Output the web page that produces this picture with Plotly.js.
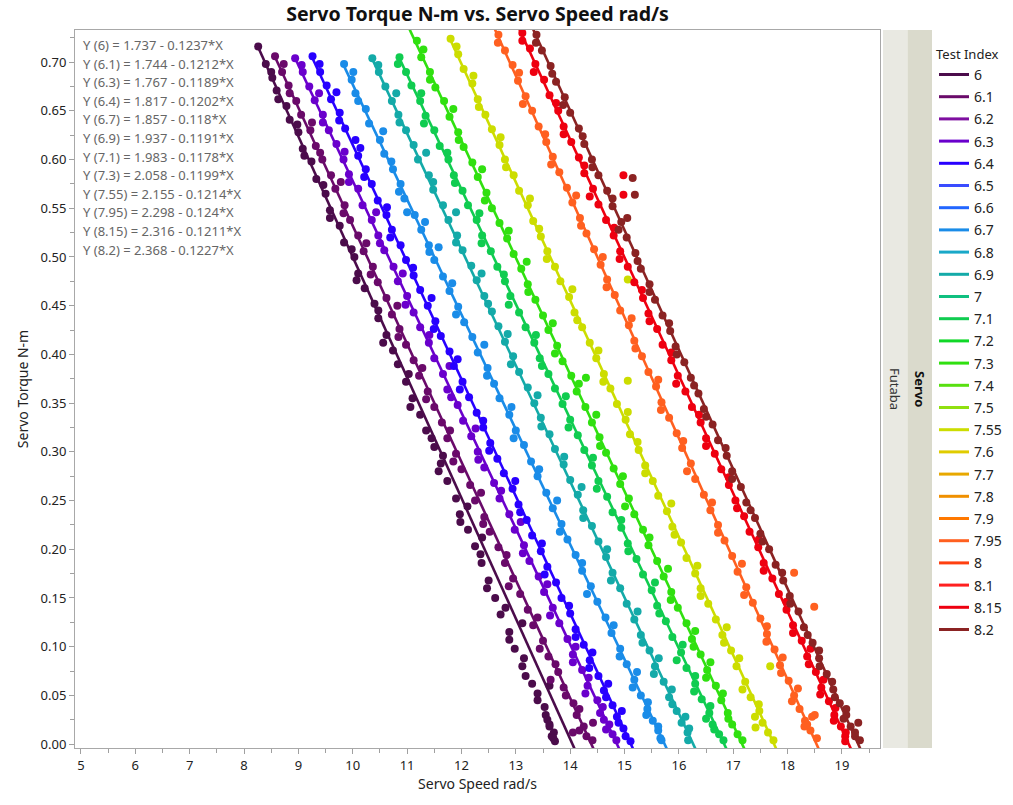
<!DOCTYPE html>
<html>
<head>
<meta charset="utf-8">
<script src="https://cdn.plot.ly/plotly-3.0.1.min.js"></script>
<style>html,body{margin:0;padding:0;background:#fff;}#chart{width:1013px;height:805px;}</style>
</head>
<body>
<div id="chart"></div>
<script>
// ---- Legend categories (Test Index) and colours ----
const legendNames = ['6','6.1','6.2','6.3','6.4','6.5','6.6','6.7','6.8','6.9','7','7.1','7.2','7.3','7.4','7.5','7.55','7.6','7.7','7.8','7.9','7.95','8','8.1','8.15','8.2'];
const legendColors = ['#4B0C4B','#6A0A6A','#7E0FA0','#6A00CC','#2800FF','#3A4CFF','#2266FF','#1A8CE8','#19A8C8','#14AAA8','#10C080','#10CC50','#10D828','#30E010','#58E010','#90E010','#CCDD00','#E0CC00','#E8A800','#F09000','#FF7800','#FF6020','#FF4010','#FF2020','#EE0010','#8B2323'];

// ---- Series with data and their fitted lines ----
const seriesNames = ['6','6.1','6.3','6.4','6.7','6.9','7.1','7.3','7.55','7.95','8.15','8.2'];
const fitIntercepts = [1.737,1.744,1.767,1.817,1.857,1.937,1.983,2.058,2.155,2.298,2.316,2.368];
const fitSlopes = [0.1237,0.1212,0.1189,0.1202,0.118,0.1191,0.1178,0.1199,0.1214,0.124,0.1211,0.1227];

const X_6 = [8.26,8.40,8.52,8.60,8.78,8.84,9.00,9.08,9.24,9.33,9.50,9.58,9.76,9.84,10.03,10.10,10.22,10.40,10.47,10.62,10.74,10.83,10.98,11.10,11.24,11.35,11.50,11.62,11.74,11.90,11.97,12.12,12.25,12.37,12.50,12.62,12.72,12.88,12.98,13.12,13.30,13.40,13.55,13.62,13.66,13.72,13.70,13.58,11.66,12.38,13.12,13.62,
  8.50,8.63,8.98,9.11,9.46,9.58,9.98,10.07,10.47,10.56,11.03,11.06,11.45,11.58,12.11,11.98,12.35,12.47,12.81,12.88,13.15,13.18,13.40,13.53,13.62,13.69];
const Y_6 = [0.716,0.698,0.684,0.671,0.655,0.641,0.628,0.611,0.598,0.580,0.565,0.548,0.532,0.515,0.500,0.483,0.468,0.452,0.437,0.420,0.404,0.390,0.372,0.355,0.338,0.322,0.305,0.288,0.270,0.252,0.236,0.220,0.203,0.186,0.168,0.150,0.133,0.115,0.098,0.080,0.062,0.045,0.030,0.018,0.008,0.003,0.012,0.025,0.296,0.212,0.124,0.060,
  0.690,0.662,0.636,0.604,0.574,0.540,0.508,0.476,0.445,0.412,0.380,0.346,0.314,0.280,0.244,0.228,0.195,0.160,0.140,0.107,0.088,0.070,0.052,0.038,0.020,0.006];

const X_6_1 = [8.57,8.70,8.82,8.96,9.05,9.22,9.32,9.44,9.60,9.68,9.85,9.95,10.10,10.20,10.37,10.46,10.62,10.72,10.86,10.98,11.12,11.22,11.38,11.50,11.64,11.74,11.90,12.00,12.16,12.25,12.42,12.52,12.68,12.80,12.95,13.08,13.22,13.32,13.50,13.60,13.78,13.88,14.06,14.12,14.25,14.30,14.42,14.05,
  8.73,8.84,9.25,9.40,9.78,9.83,10.25,10.33,10.82,10.84,11.28,11.35,11.79,11.85,12.36,12.40,12.83,12.87,13.40,13.44,13.73,13.64,13.92,14.17,14.17,14.41];
const Y_6_1 = [0.706,0.690,0.676,0.660,0.646,0.630,0.614,0.600,0.584,0.570,0.553,0.538,0.522,0.506,0.490,0.474,0.458,0.441,0.426,0.410,0.394,0.378,0.362,0.346,0.330,0.314,0.298,0.282,0.266,0.250,0.233,0.218,0.202,0.186,0.170,0.154,0.138,0.122,0.106,0.090,0.074,0.058,0.042,0.030,0.018,0.008,0.022,0.012,
  0.698,0.668,0.638,0.607,0.577,0.545,0.514,0.482,0.450,0.418,0.386,0.354,0.322,0.290,0.258,0.226,0.194,0.162,0.130,0.098,0.082,0.066,0.050,0.036,0.014,0.004];

const X_6_3 = [8.94,9.08,9.20,9.30,9.45,9.56,9.70,9.83,9.93,10.10,10.18,10.35,10.47,10.58,10.75,10.83,11.00,11.12,11.24,11.40,11.50,11.66,11.74,11.93,12.03,12.18,12.30,12.42,12.60,12.70,12.88,12.98,13.15,13.25,13.42,13.52,13.68,13.80,13.95,14.05,14.22,14.32,14.50,14.55,14.72,14.78,14.62,
  9.06,9.38,9.45,9.85,9.93,10.43,10.50,10.92,10.97,11.41,11.78,11.81,12.26,12.31,12.73,13.09,13.13,13.58,13.63,14.10,14.05,14.34,14.28,14.60,14.66,14.85];
const Y_6_3 = [0.704,0.690,0.675,0.661,0.646,0.630,0.616,0.600,0.585,0.570,0.553,0.538,0.522,0.507,0.490,0.475,0.460,0.443,0.428,0.412,0.396,0.380,0.364,0.348,0.332,0.316,0.300,0.284,0.268,0.252,0.236,0.220,0.204,0.188,0.172,0.156,0.140,0.124,0.108,0.092,0.076,0.060,0.045,0.032,0.020,0.010,0.025,
  0.697,0.668,0.638,0.608,0.577,0.546,0.514,0.483,0.451,0.420,0.388,0.356,0.324,0.292,0.260,0.228,0.196,0.164,0.132,0.100,0.084,0.068,0.052,0.038,0.015,0.004];

const X_6_4 = [9.26,9.40,9.52,9.60,9.76,9.86,10.05,10.10,10.24,10.35,10.46,10.62,10.72,10.88,10.98,11.12,11.24,11.38,11.52,11.62,11.78,11.86,12.02,12.14,12.28,12.40,12.53,12.66,12.78,12.94,13.05,13.20,13.30,13.46,13.58,13.74,13.84,14.00,14.10,14.25,14.36,14.52,14.62,14.78,14.86,14.98,15.02,
  9.39,9.70,9.75,10.14,10.21,10.63,10.69,11.11,11.45,11.49,11.93,11.97,12.40,12.51,12.99,13.08,13.48,13.53,13.98,14.10,14.41,14.35,14.70,14.66,14.95,14.89,15.11];
const Y_6_4 = [0.706,0.690,0.676,0.662,0.648,0.632,0.620,0.604,0.590,0.575,0.558,0.543,0.528,0.512,0.497,0.481,0.466,0.450,0.434,0.419,0.403,0.388,0.372,0.356,0.340,0.325,0.309,0.293,0.278,0.262,0.246,0.230,0.214,0.198,0.182,0.166,0.150,0.134,0.118,0.102,0.086,0.070,0.055,0.040,0.028,0.016,0.008,
  0.698,0.669,0.640,0.612,0.582,0.551,0.520,0.489,0.458,0.426,0.395,0.364,0.332,0.301,0.270,0.238,0.206,0.174,0.142,0.110,0.094,0.078,0.062,0.048,0.034,0.022,0.003];

const X_6_7 = [9.84,9.98,10.05,10.24,10.30,10.50,10.58,10.74,10.88,10.95,11.14,11.26,11.40,11.50,11.66,11.78,11.94,12.05,12.20,12.30,12.48,12.60,12.70,12.88,13.00,13.15,13.28,13.40,13.56,13.68,13.84,13.95,14.10,14.22,14.38,14.50,14.65,14.76,14.92,15.04,15.18,15.30,15.42,15.52,15.62,15.66,11.58,11.00,
  10.01,10.10,10.56,10.71,10.85,11.33,11.41,11.83,11.90,12.42,12.47,12.92,12.96,13.43,13.76,13.81,14.22,14.31,14.80,14.91,15.23,15.15,15.43,15.40,15.62,15.68];
const Y_6_7 = [0.698,0.682,0.668,0.652,0.637,0.620,0.606,0.590,0.575,0.560,0.543,0.528,0.512,0.497,0.480,0.465,0.449,0.433,0.418,0.402,0.386,0.370,0.355,0.338,0.322,0.307,0.290,0.275,0.258,0.242,0.226,0.210,0.194,0.178,0.162,0.146,0.130,0.114,0.098,0.082,0.066,0.050,0.036,0.024,0.014,0.006,0.510,0.546,
  0.690,0.660,0.629,0.598,0.567,0.536,0.505,0.473,0.441,0.410,0.378,0.346,0.314,0.282,0.250,0.218,0.186,0.154,0.122,0.090,0.074,0.058,0.043,0.030,0.018,0.004];

const X_6_9 = [10.36,10.48,10.60,10.72,10.84,10.98,11.12,11.20,11.40,11.48,11.66,11.76,11.92,12.02,12.18,12.28,12.42,12.56,12.68,12.80,12.95,13.06,13.22,13.34,13.46,13.62,13.72,13.88,14.00,14.14,14.24,14.40,14.52,14.66,14.78,14.92,15.04,15.18,15.30,15.46,15.56,15.72,15.82,15.96,16.05,16.16,16.12,
  10.47,10.80,10.86,11.35,11.48,11.90,11.90,12.37,12.49,12.85,12.91,13.40,13.47,13.89,14.21,14.24,14.68,14.75,15.24,15.33,15.63,15.54,15.87,15.88,16.19,16.17];
const Y_6_9 = [0.704,0.690,0.675,0.660,0.646,0.630,0.615,0.600,0.584,0.569,0.553,0.538,0.522,0.507,0.491,0.476,0.460,0.444,0.429,0.413,0.398,0.382,0.366,0.350,0.335,0.318,0.303,0.287,0.271,0.256,0.240,0.224,0.208,0.192,0.176,0.160,0.144,0.128,0.112,0.096,0.080,0.064,0.048,0.034,0.022,0.012,0.028,
  0.697,0.668,0.638,0.607,0.577,0.546,0.515,0.483,0.452,0.421,0.390,0.358,0.326,0.295,0.264,0.232,0.200,0.168,0.136,0.104,0.088,0.072,0.056,0.041,0.016,0.004];

const X_7_1 = [10.86,10.98,11.08,11.24,11.34,11.50,11.60,11.76,11.86,12.02,12.12,12.28,12.38,12.54,12.66,12.80,12.90,13.06,13.18,13.34,13.44,13.60,13.72,13.86,14.00,14.14,14.26,14.40,14.52,14.68,14.78,14.94,15.06,15.22,15.34,15.50,15.60,15.76,15.88,16.04,16.14,16.30,16.42,16.56,16.62,16.74,16.50,
  10.83,11.26,11.31,11.74,11.88,12.33,12.37,12.78,12.87,13.37,13.48,13.92,13.97,14.42,14.49,14.94,15.07,15.56,15.64,16.07,15.96,16.30,16.28,16.58,16.65,16.82];
const Y_7_1 = [0.705,0.690,0.676,0.660,0.645,0.630,0.614,0.600,0.584,0.568,0.553,0.538,0.522,0.506,0.490,0.475,0.460,0.443,0.428,0.412,0.396,0.380,0.365,0.349,0.333,0.317,0.302,0.286,0.270,0.254,0.238,0.222,0.206,0.190,0.174,0.158,0.142,0.126,0.110,0.094,0.078,0.062,0.046,0.032,0.020,0.010,0.026,
  0.698,0.668,0.637,0.607,0.576,0.545,0.514,0.482,0.451,0.420,0.388,0.357,0.325,0.294,0.262,0.230,0.198,0.166,0.134,0.102,0.086,0.070,0.054,0.039,0.015,0.004];

const X_7_3 = [10.99,11.18,11.26,11.42,11.52,11.68,11.78,11.94,12.04,12.20,12.30,12.46,12.56,12.70,12.84,12.96,13.10,13.22,13.36,13.50,13.60,13.76,13.86,14.02,14.12,14.28,14.40,14.54,14.66,14.80,14.92,15.08,15.18,15.34,15.44,15.60,15.72,15.86,15.98,16.14,16.24,16.40,16.52,16.68,16.78,16.90,16.98,17.08,14.29,
  11.30,11.42,11.85,11.95,12.38,12.43,12.87,13.20,13.23,13.68,13.72,14.16,14.48,14.55,14.97,15.01,15.46,15.80,15.85,16.30,16.27,16.58,16.50,16.81,16.91,17.17];
const Y_7_3 = [0.742,0.722,0.705,0.690,0.674,0.660,0.644,0.628,0.613,0.597,0.582,0.566,0.550,0.535,0.519,0.503,0.488,0.472,0.456,0.440,0.425,0.409,0.393,0.378,0.362,0.346,0.330,0.315,0.299,0.283,0.267,0.252,0.236,0.220,0.204,0.188,0.172,0.156,0.140,0.124,0.108,0.092,0.076,0.060,0.045,0.032,0.020,0.010,0.376,
  0.713,0.682,0.652,0.620,0.590,0.558,0.527,0.495,0.464,0.432,0.401,0.370,0.338,0.306,0.275,0.244,0.212,0.180,0.148,0.116,0.100,0.084,0.068,0.052,0.026,0.004];

const X_7_55 = [11.80,11.94,12.04,12.20,12.30,12.44,12.56,12.70,12.80,12.96,13.06,13.22,13.32,13.46,13.58,13.72,13.82,13.98,14.08,14.22,14.36,14.48,14.62,14.74,14.86,15.02,15.10,15.26,15.38,15.52,15.62,15.78,15.88,16.04,16.14,16.30,16.40,16.54,16.68,16.80,16.96,17.06,17.22,17.32,17.48,17.54,17.64,17.40,15.06,15.06,17.68,
  11.91,12.22,12.32,12.72,12.82,13.26,13.43,13.57,14.04,14.13,14.52,14.61,15.06,15.24,15.38,15.86,15.92,16.34,16.40,16.88,16.83,17.11,17.17,17.47,17.41,17.74];
const Y_7_55 = [0.724,0.708,0.693,0.678,0.662,0.646,0.631,0.615,0.600,0.584,0.568,0.553,0.537,0.521,0.506,0.490,0.475,0.459,0.443,0.428,0.412,0.396,0.380,0.365,0.349,0.333,0.318,0.302,0.286,0.270,0.255,0.239,0.223,0.207,0.191,0.175,0.160,0.144,0.128,0.112,0.096,0.080,0.064,0.048,0.034,0.022,0.012,0.028,0.477,0.373,0.080,
  0.716,0.686,0.654,0.623,0.592,0.560,0.529,0.498,0.467,0.435,0.404,0.372,0.341,0.310,0.278,0.247,0.215,0.183,0.152,0.120,0.104,0.088,0.056,0.041,0.017,0.004];

const X_7_95 = [12.53,12.68,12.80,12.94,13.04,13.18,13.30,13.42,13.56,13.68,13.80,13.94,14.04,14.18,14.30,14.44,14.56,14.68,14.82,14.92,15.08,15.18,15.32,15.44,15.58,15.68,15.82,15.96,16.06,16.22,16.30,16.46,16.58,16.72,16.84,16.98,17.08,17.24,17.36,17.50,17.62,17.76,17.86,18.02,18.12,18.22,18.32,18.42,18.50,18.36,18.12,18.49,
  12.67,13.06,13.13,13.54,13.65,14.11,14.20,14.60,14.67,15.13,15.20,15.62,15.67,16.08,16.15,16.61,16.72,17.16,17.20,17.62,17.61,17.91,17.88,18.19,18.08,18.45,18.31,18.54];
const Y_7_95 = [0.745,0.728,0.712,0.697,0.681,0.665,0.650,0.634,0.618,0.603,0.587,0.571,0.556,0.540,0.524,0.508,0.492,0.477,0.461,0.445,0.430,0.414,0.398,0.382,0.367,0.351,0.335,0.319,0.304,0.288,0.272,0.256,0.240,0.225,0.209,0.193,0.177,0.161,0.145,0.129,0.113,0.097,0.081,0.065,0.050,0.036,0.024,0.014,0.030,0.020,0.176,0.141,
  0.720,0.689,0.657,0.626,0.595,0.563,0.532,0.500,0.469,0.437,0.406,0.374,0.343,0.311,0.280,0.248,0.217,0.185,0.153,0.121,0.105,0.089,0.073,0.057,0.044,0.028,0.018,0.006];

const X_8_15 = [12.98,13.12,13.26,13.36,13.52,13.62,13.78,13.88,14.02,14.16,14.26,14.42,14.52,14.66,14.80,14.92,15.06,15.18,15.34,15.44,15.60,15.70,15.86,15.98,16.12,16.24,16.40,16.50,16.66,16.78,16.92,17.04,17.20,17.30,17.46,17.56,17.72,17.84,17.98,18.10,18.26,18.36,18.52,18.62,18.76,18.86,18.98,19.06,14.98,14.98,
  13.12,13.33,13.74,13.88,14.26,14.36,14.81,14.91,15.32,15.46,15.86,15.95,16.37,16.50,16.92,17.07,17.47,17.56,17.98,18.10,18.42,18.39,18.66,18.60,18.88,18.85,19.07,19.06];
const Y_8_15 = [0.745,0.730,0.714,0.698,0.682,0.666,0.650,0.634,0.618,0.602,0.586,0.570,0.554,0.538,0.522,0.506,0.490,0.474,0.458,0.442,0.426,0.410,0.394,0.378,0.362,0.346,0.330,0.314,0.298,0.282,0.266,0.250,0.234,0.218,0.202,0.186,0.170,0.154,0.138,0.122,0.106,0.090,0.074,0.058,0.044,0.030,0.018,0.008,0.584,0.564,
  0.722,0.690,0.658,0.626,0.594,0.562,0.530,0.498,0.466,0.434,0.402,0.370,0.338,0.306,0.274,0.242,0.210,0.178,0.146,0.114,0.098,0.082,0.066,0.051,0.037,0.024,0.012,0.003];

const X_8_2 = [13.22,13.38,13.48,13.64,13.74,13.90,14.00,14.16,14.26,14.40,14.52,14.68,14.78,14.94,15.04,15.20,15.30,15.46,15.56,15.70,15.84,15.94,16.10,16.22,16.36,16.46,16.62,16.72,16.88,16.98,17.14,17.24,17.40,17.50,17.66,17.78,17.92,18.04,18.20,18.30,18.46,18.58,18.72,18.84,18.96,19.08,19.16,19.24,19.30,15.15,15.19,15.05,
  13.37,13.67,13.87,14.23,14.41,14.78,14.89,15.24,15.46,15.82,15.96,16.28,16.50,16.86,16.98,17.32,17.54,17.90,18.05,18.37,18.58,18.59,18.82,18.87,19.08,19.03,19.24,19.33];
const Y_8_2 = [0.745,0.728,0.712,0.696,0.680,0.664,0.648,0.632,0.616,0.600,0.584,0.568,0.552,0.536,0.520,0.504,0.488,0.472,0.456,0.440,0.424,0.408,0.392,0.376,0.360,0.344,0.328,0.312,0.296,0.280,0.264,0.248,0.232,0.216,0.200,0.184,0.168,0.152,0.136,0.120,0.104,0.088,0.072,0.056,0.042,0.030,0.018,0.008,0.022,0.581,0.564,0.540,
  0.720,0.688,0.656,0.624,0.592,0.560,0.528,0.496,0.464,0.432,0.400,0.368,0.336,0.304,0.272,0.240,0.208,0.176,0.144,0.112,0.096,0.080,0.064,0.048,0.036,0.026,0.012,0.004];

const seriesX = [X_6,X_6_1,X_6_3,X_6_4,X_6_7,X_6_9,X_7_1,X_7_3,X_7_55,X_7_95,X_8_15,X_8_2];
const seriesY = [Y_6,Y_6_1,Y_6_3,Y_6_4,Y_6_7,Y_6_9,Y_7_1,Y_7_3,Y_7_55,Y_7_95,Y_8_15,Y_8_2];

const FONT = '"Noto Sans", "Open Sans", sans-serif';
const colorOf = name => legendColors[legendNames.indexOf(name)];

const traces = [];
seriesNames.forEach((name, i) => {
  const xs = seriesX[i], ys = seriesY[i];
  const a = fitIntercepts[i], b = fitSlopes[i];
  traces.push({
    type: 'scatter', mode: 'markers', x: xs, y: ys, showlegend: false,
    marker: {color: colorOf(name), size: 8, line: {width: 0}},
    hoverinfo: 'x+y'
  });
  const x0 = Math.min(...xs);
  const x1 = Math.max(Math.max(...xs), a / b) + 0.05;
  traces.push({
    type: 'scatter', mode: 'lines', x: [x0, x1], y: [a - b * x0, a - b * x1],
    showlegend: false, line: {color: colorOf(name), width: 2.6}, hoverinfo: 'skip'
  });
});
legendNames.forEach((name, i) => {
  traces.push({
    type: 'scatter', mode: 'lines', x: [null], y: [null], name: name,
    legendgroup: 'g' + i, showlegend: true,
    line: {color: legendColors[i], width: 3}
  });
});

// equation annotations
const annotations = seriesNames.map((name, i) => ({
  xref: 'paper', yref: 'paper', x: 0.008, xanchor: 'left',
  y: (748 - 45 - 18.6 * i) / 718, yanchor: 'middle', showarrow: false,
  text: 'Y (' + name + ') = ' + fitIntercepts[i] + ' - ' + fitSlopes[i] + '*X',
  font: {family: FONT, size: 13, color: '#666666'}
}));
annotations.push({
  xref: 'paper', yref: 'paper', x: (895 - 75) / 805, y: 0.5, xanchor: 'center', yanchor: 'middle',
  showarrow: false, textangle: 90, text: 'Futaba', font: {family: FONT, size: 13, color: '#333'}
});
annotations.push({
  xref: 'paper', yref: 'paper', x: (920 - 75) / 805, y: 0.5, xanchor: 'center', yanchor: 'middle',
  showarrow: false, textangle: 90, text: '<b>Servo</b>', font: {family: FONT, size: 13, color: '#111'}
});

const axisCommon = {
  showgrid: false, zeroline: false, showline: true, mirror: true, linecolor: '#a8a8a8', linewidth: 1,
  ticks: 'outside', ticklen: 5, tickcolor: '#a0a0a0',
  tickfont: {family: FONT, size: 13, color: '#222'}
};

const layout = {
  width: 1013, height: 805,
  margin: {l: 75, r: 133, t: 30, b: 57, autoexpand: false},
  paper_bgcolor: '#fff', plot_bgcolor: '#fff',
  font: {family: FONT, color: '#222'},
  title: {text: '<b>Servo Torque N-m vs. Servo Speed rad/s</b>', x: 0.5, xref: 'paper', xanchor: 'center',
          y: 1 - 14 / 805, yref: 'container', yanchor: 'middle', font: {family: FONT, size: 19.5, color: '#111'}},
  xaxis: Object.assign({}, axisCommon, {
    range: [4.89, 19.70], tick0: 5, dtick: 1,
    minor: {dtick: 0.5, ticks: 'outside', ticklen: 4, tickcolor: '#a0a0a0'},
    title: {text: 'Servo Speed rad/s', font: {family: FONT, size: 14, color: '#222'}, standoff: 4}
  }),
  yaxis: Object.assign({}, axisCommon, {
    range: [-0.004, 0.733], tick0: 0, dtick: 0.05, tickformat: '.2f',
    minor: {dtick: 0.025, ticks: 'outside', ticklen: 4, tickcolor: '#a0a0a0'},
    title: {text: 'Servo Torque N-m', font: {family: FONT, size: 14, color: '#222'}, standoff: 8}
  }),
  legend: {
    x: (934 - 75) / 805, xanchor: 'left', y: (748 - 42) / 718, yanchor: 'top',
    bgcolor: 'rgba(0,0,0,0)', tracegroupgap: 1,
    font: {family: FONT, size: 14, color: '#222'},
    title: {text: 'Test Index', font: {family: FONT, size: 13, color: '#222'}}
  },
  shapes: [
    {type: 'rect', xref: 'paper', yref: 'paper', x0: (883 - 75) / 805, x1: (907.5 - 75) / 805, y0: 0, y1: 1,
     fillcolor: '#E9E9E2', line: {width: 0}, layer: 'below'},
    {type: 'rect', xref: 'paper', yref: 'paper', x0: (907.5 - 75) / 805, x1: (932 - 75) / 805, y0: 0, y1: 1,
     fillcolor: '#DADACC', line: {width: 0}, layer: 'below'}
  ],
  annotations: annotations,
  showlegend: true
};

Plotly.newPlot('chart', traces, layout, {displayModeBar: false, staticPlot: true});
</script>
</body>
</html>
